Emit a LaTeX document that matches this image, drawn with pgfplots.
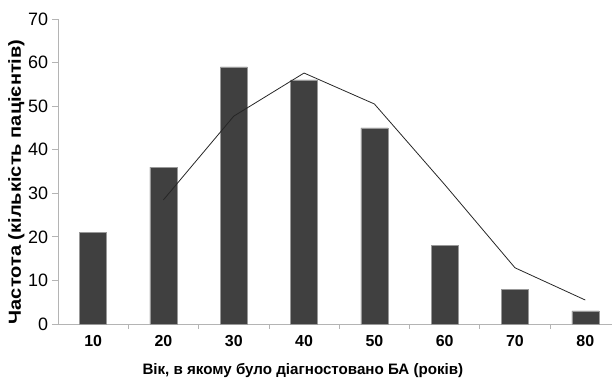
\documentclass[border=0pt]{standalone}
\usepackage{pgfplots}
\pgfplotsset{compat=1.18}
\usepackage{fontspec}
\setmainfont{Liberation Sans}
\definecolor{bardark}{HTML}{404040}
\definecolor{axgray}{HTML}{B4B4B4}
\begin{document}
\begin{tikzpicture}
\begin{axis}[
  scale only axis,
  width=554bp, height=305bp,
  xmin=-0.5, xmax=7.38,
  ymin=0, ymax=70,
  axis lines=left,
  axis line style={axgray, line width=0.8pt, -},
  ytick={0,10,...,70},
  xtick={0,...,7},
  xticklabels={10,20,30,40,50,60,70,80},
  minor xtick={0.5,1.5,...,6.5},
  major x tick style={draw=none},
  minor x tick style={axgray, line width=0.8pt},
  y tick style={axgray, line width=0.8pt},
  tick align=outside,
  major tick length=6bp,
  minor tick length=5bp,
  /pgf/number format/assume math mode=true,
  yticklabel style={font=\fontsize{18}{21}\selectfont, xshift=-0.5bp},
  xticklabel style={font=\bfseries\fontsize{16}{19}\selectfont, yshift=-2bp},
  xlabel={Вік, в якому було діагностовано БА (років)},
  ylabel={Частота (кількість пацієнтів)},
  xlabel style={font=\bfseries\fontsize{15.2}{18}\selectfont, at={(axis description cs:0.442,-0.154)}, anchor=center},
  ylabel style={font=\bfseries\fontsize{17.5}{20}\selectfont, xscale=1.15, at={(axis description cs:-0.075,0.466)}, anchor=center},
  clip=false,
]
\addplot[ybar, bar width=27bp, fill=bardark, draw=gray!80, line width=0.4pt]
  coordinates {(0,21) (1,36) (2,59) (3,56) (4,45) (5,18) (6,8) (7,3)};
\addplot[sharp plot, black!85, line width=0.8pt, mark=none]
  coordinates {(1,28.5) (2,47.7) (3,57.6) (4,50.5) (5,32) (6,12.9) (7,5.5)};
\end{axis}
\pgfresetboundingbox
\path[use as bounding box] (current axis.south west) ++(-58bp,-61bp) rectangle ([yshift=19bp]current axis.north east);
\end{tikzpicture}
\end{document}
